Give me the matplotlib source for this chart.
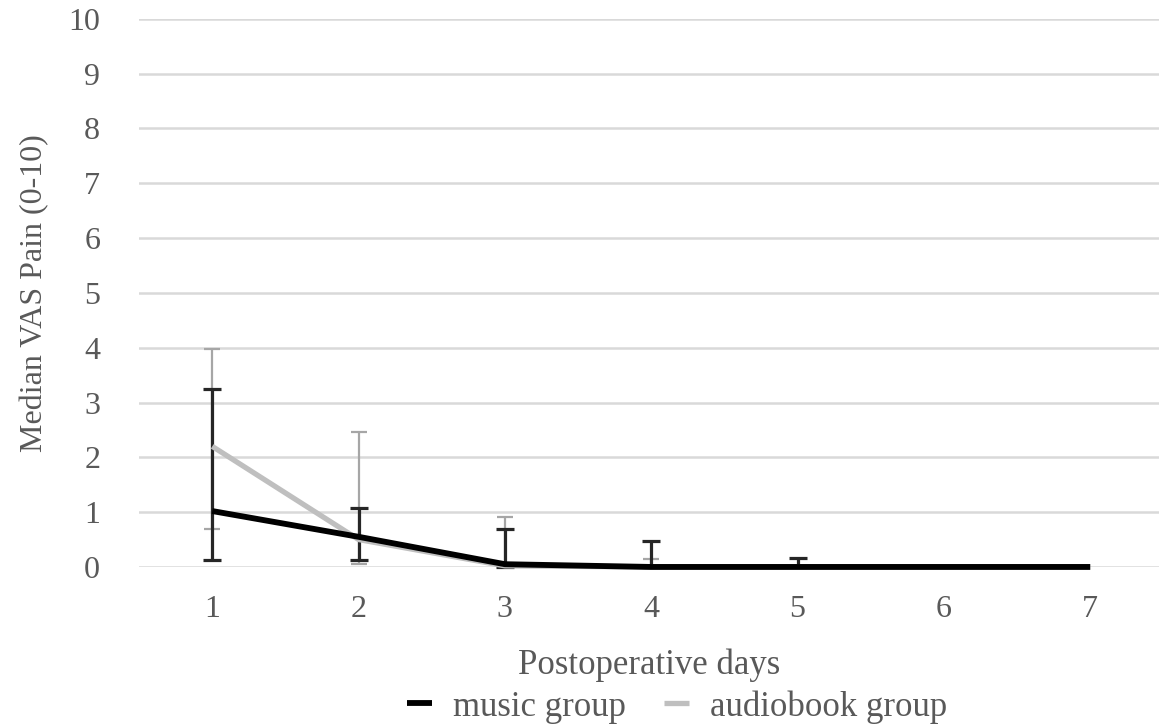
import numpy as np
import matplotlib.pyplot as plt

days = [1, 2, 3, 4, 5, 6, 7]

music_median = [1.02, 0.55, 0.05, 0.0, 0.0, 0.0, 0.0]
music_upper = [3.25, 1.07, 0.70, 0.47, 0.17, 0.0, 0.0]
music_lower = [0.12, 0.12, 0.0, 0.0, 0.0, 0.0, 0.0]

audio_median = [2.2, 0.5, 0.02, 0.0, 0.0, 0.0, 0.0]
audio_upper = [3.98, 2.47, 0.91, 0.14, 0.0, 0.0, 0.0]
audio_lower = [0.70, 0.05, 0.0, 0.0, 0.0, 0.0, 0.0]

plt.rcParams['font.family'] = ['Liberation Serif', 'DejaVu Serif']

fig = plt.figure(figsize=(11.59, 7.25), dpi=100)
ax = fig.add_axes([0.12, 0.218, 0.88, 0.756])

tick_col = '#595959'

# error bars (drawn only where there is a range)
def draw_err(med, up, lo, color, lw, cap):
    med = np.array(med); up = np.array(up); lo = np.array(lo)
    mask = (up - lo) > 0.02
    d = np.array(days)[mask]
    eb = ax.errorbar(d, med[mask], yerr=[med[mask] - lo[mask], up[mask] - med[mask]],
                     fmt='none', ecolor=color, elinewidth=lw, capsize=cap,
                     capthick=lw, zorder=3)
    for a in eb.lines[1]:
        a.set_clip_on(False)

draw_err(audio_median, audio_upper, audio_lower, '#a6a6a6', 1.6, 6)
draw_err(music_median, music_upper, music_lower, '#262626', 2.3, 6.5)

ax.plot(days, audio_median, color='#bfbfbf', lw=3.8, zorder=4,
        label='audiobook group', solid_capstyle='butt', clip_on=False)
ax.plot(days, music_median, color='black', lw=4.2, zorder=5,
        label='music group', solid_capstyle='butt', clip_on=False)

ax.set_xlim(0.5, 7.47)
ax.set_ylim(0, 10)
ax.set_yticks(range(0, 11))
ax.set_xticks(days)
ax.yaxis.grid(True, color='#d9d9d9', lw=1.8)
ax.set_axisbelow(True)
for s in ax.spines.values():
    s.set_visible(False)
ax.tick_params(length=0, labelsize=23, colors=tick_col)
ax.tick_params(axis='y', pad=28)
ax.tick_params(axis='x', pad=20)

ax.set_xlabel('Postoperative days', fontsize=25, color=tick_col, labelpad=18)
ax.set_ylabel('Median VAS Pain (0-10)', fontsize=23, color=tick_col, labelpad=14)

h, l = ax.get_legend_handles_labels()
leg = fig.legend(h[::-1], l[::-1], loc='center', bbox_to_anchor=(0.584, 0.025),
                 ncol=2, frameon=False, fontsize=25, handlelength=0.72,
                 columnspacing=1.1, handletextpad=0.6)
for t in leg.get_texts():
    t.set_color(tick_col)

fig.savefig('out.png', dpi=100)
